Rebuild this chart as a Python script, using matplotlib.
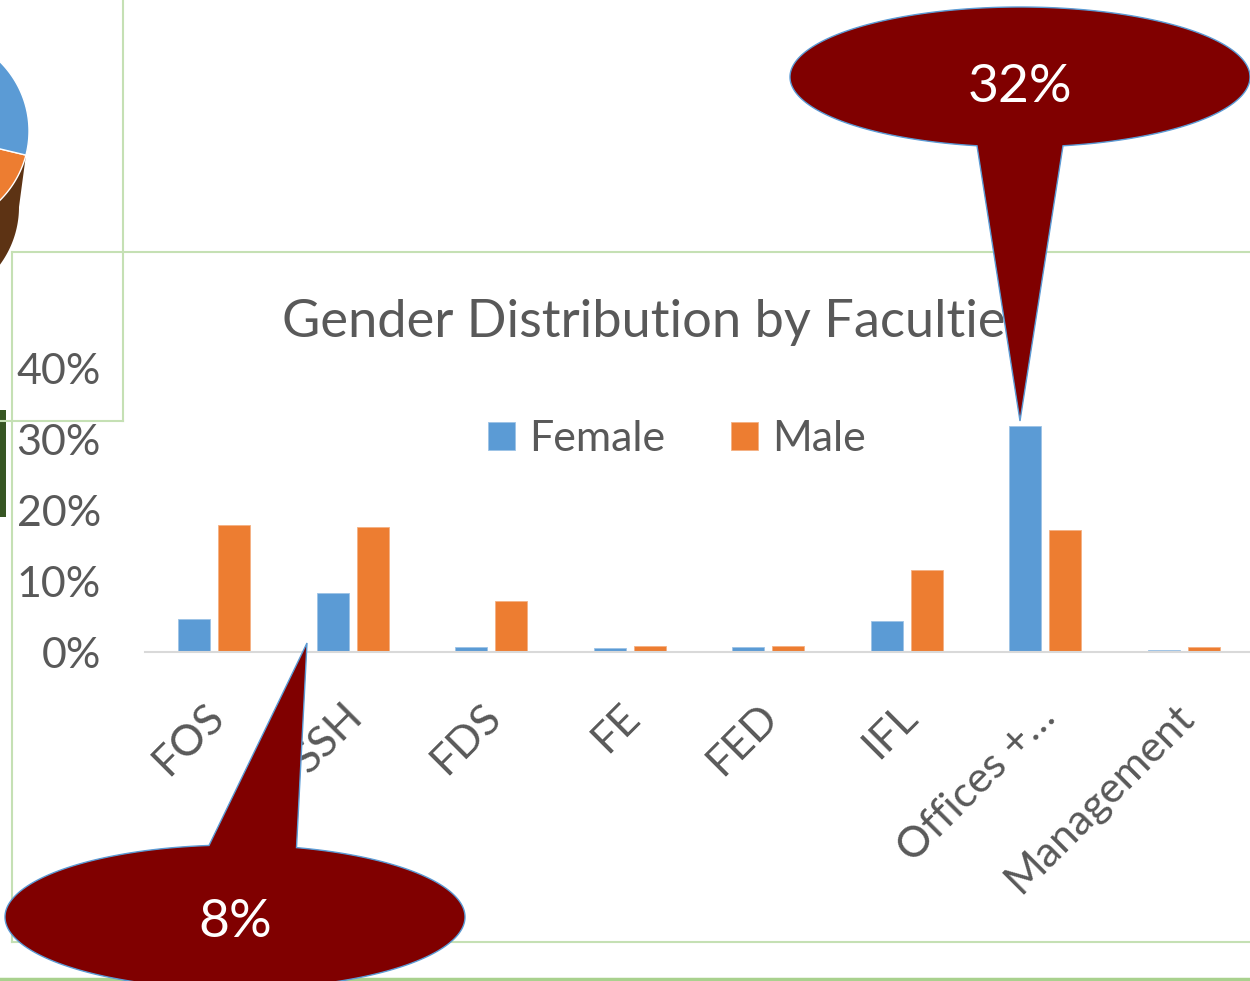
import numpy as np
import matplotlib
matplotlib.use("Agg")
import matplotlib.pyplot as plt
from matplotlib.patches import Polygon, Rectangle
from matplotlib.lines import Line2D
from matplotlib.transforms import offset_copy

# ---------------- data ----------------
categories = ["FOS", "SSH", "FDS", "FE", "FED", "IFL", "Offices +\u2026", "Management"]
female = [4.6, 8.4, 0.75, 0.5, 0.7, 4.4, 32.0, 0.35]
male = [18.0, 17.6, 7.2, 0.9, 0.9, 11.6, 17.2, 0.7]
series_names = ["Female", "Male"]
ytick_values = [0, 10, 20, 30, 40]
title_text = "Gender Distribution by Faculties"
callout_top_value = female[6]
callout_bottom_value = female[1]

# ---------------- setup ----------------
W, H, DPI = 1250, 981, 100
plt.rcParams["font.family"] = ["Lato", "DejaVu Sans"]
fig = plt.figure(figsize=(W / DPI, H / DPI), dpi=DPI)
renderer = fig.canvas.get_renderer()

TXT = "#595959"
BLUE = "#5b9bd5"
ORANGE = "#ed7d31"
FRAME = "#c5e0b4"
DARKRED = "#800000"


def fit_size(s, target_px):
    size = 20.0
    for _ in range(3):
        t = fig.text(0, 0, s, fontsize=size)
        w = t.get_window_extent(renderer).width
        t.remove()
        size = size * target_px / w
    return size


fs = np.mean([fit_size("Female", 138), fit_size("Male", 95), fit_size("40%", 83)])
fs_title = fit_size("Gender Distribution by Facultie", 725)
fs_call = fit_size("32%", 105)
fs_px = fs * DPI / 72.0

# ---------------- background decorations (pixel coords) ----------------
bg = fig.add_axes([0, 0, 1, 1], zorder=0)
bg.set_xlim(0, W)
bg.set_ylim(H, 0)
bg.axis("off")

# fragment of a neighbouring 3-D pie chart
cx0, cy0, a0, b0 = -75.0, 131.0, 104.0, 100.0
t_sep = np.arctan2((155 - cy0) / b0, (25.5 - cx0) / a0)


def rim(cx, cy, a, b, ts):
    return np.column_stack([cx + a * np.cos(ts), cy + b * np.sin(ts)])


ts_b1 = np.linspace(t_sep, np.pi, 120)
ts_b2 = np.linspace(np.pi, 0, 120)
brown_pts = np.vstack([rim(cx0, cy0, a0, b0, ts_b1), rim(cx0 - 10, cy0 + 76, a0, b0, ts_b2)])
bg.add_patch(Polygon(brown_pts, closed=True, facecolor="#5d3314", edgecolor="none"))
orange_pts = np.vstack([[cx0, cy0], rim(cx0, cy0, a0, b0, np.linspace(t_sep, np.pi, 120))])
bg.add_patch(Polygon(orange_pts, closed=True, facecolor=ORANGE, edgecolor="white", lw=1.0))
blue_pts = np.vstack([[cx0, cy0], rim(cx0, cy0, a0, b0, np.linspace(t_sep, -np.pi, 160))])
bg.add_patch(Polygon(blue_pts, closed=True, facecolor=BLUE, edgecolor="white", lw=1.0))

# dark green sliver at left
bg.add_patch(Rectangle((0, 410), 6, 107, facecolor="#375623", edgecolor="none"))

# frame lines of neighbouring objects
for (xs, ys) in [([123, 123], [0, 421]), ([0, 123], [421, 421]),
                 ([12, W], [252, 252]), ([12, 12], [252, 942]), ([12, W], [942, 942])]:
    bg.add_line(Line2D(xs, ys, color=FRAME, lw=1.5))
bg.add_line(Line2D([0, W], [979, 979], color="#a9d18e", lw=2.5))

# ---------------- main chart ----------------
x0_px, x1_px = 145.0, 1253.0
y0_px, y40_px = 652.0, 369.0
ax = fig.add_axes([x0_px / W, 1 - y0_px / H, (x1_px - x0_px) / W, (y0_px - y40_px) / H], zorder=2)
ax.patch.set_visible(False)
x = np.arange(len(categories))
bw = 32 / 138.5
off = 20 / 138.5
ax.bar(x - off, female, width=bw, color=BLUE, edgecolor="#9dc3e6", lw=0.6, label=series_names[0])
ax.bar(x + off, male, width=bw, color=ORANGE, edgecolor="#f4b183", lw=0.6, label=series_names[1])
ax.set_xlim(-0.5, 7.5)
ax.set_ylim(0, 40)
for s in ["top", "right", "left"]:
    ax.spines[s].set_visible(False)
ax.spines["bottom"].set_color("#d9d9d9")
ax.spines["bottom"].set_linewidth(1.5)
ax.set_yticks(ytick_values, [f"{v}%" for v in ytick_values])
ax.tick_params(axis="y", length=0, pad=44 * 72 / DPI, labelsize=fs, labelcolor=TXT)
ax.set_xticks(x)
ax.tick_params(axis="x", length=0, labelbottom=False)

px_per_unit = (y0_px - y40_px) / 40.0
lab_trans = offset_copy(ax.transData, fig=fig, x=12, y=0, units="dots")
for i, c in enumerate(categories):
    ax.text(i, -(719 - y0_px) / px_per_unit, c, transform=lab_trans, rotation=45,
            ha="right", va="baseline", rotation_mode="anchor", fontsize=fs,
            color=TXT, clip_on=False)

ax.set_title(title_text, loc="left", x=(282 - x0_px) / (x1_px - x0_px),
             y=(y0_px - 337) / (y0_px - y40_px), pad=0, fontsize=fs_title, color=TXT)

ax.legend(ncol=2, loc="center left", bbox_to_anchor=(488 / W, 1 - 439 / H),
          bbox_transform=fig.transFigure, frameon=False, fontsize=fs,
          labelcolor=TXT, borderpad=0, borderaxespad=0,
          handlelength=27 / fs_px, handleheight=27 / fs_px,
          handletextpad=14 / fs_px, columnspacing=66 / fs_px)

# ---------------- callouts (pixel coords) ----------------
fg = fig.add_axes([0, 0, 1, 1], zorder=5)
fg.set_xlim(0, W)
fg.set_ylim(H, 0)
fg.axis("off")


def callout(cx, cy, a, b, tip, base_x, text, baseline_y):
    below = tip[1] > cy
    xl, xr = base_x

    def t_of(xv):
        t = np.arccos(np.clip((xv - cx) / a, -1, 1))
        return t if below else -t

    tl, tr = t_of(xl), t_of(xr)
    if below:
        ts = np.linspace(tl, tr + 2 * np.pi, 500)
    else:
        ts = np.linspace(tr, tl + 2 * np.pi, 500)
    pts = np.vstack([rim(cx, cy, a, b, ts), [tip]])
    fg.add_patch(Polygon(pts, closed=True, facecolor=DARKRED, edgecolor=BLUE, lw=1.0))
    fg.text(cx, baseline_y, text, ha="center", va="baseline", color="white", fontsize=fs_call)


callout(1020, 77, 230, 70, (1020, 421), (977, 1063), f"{callout_top_value:.0f}%", 102)
callout(235, 917, 230, 72, (307, 643), (209, 296.5), f"{callout_bottom_value:.0f}%", 937)

fig.savefig("out.png", dpi=DPI)
